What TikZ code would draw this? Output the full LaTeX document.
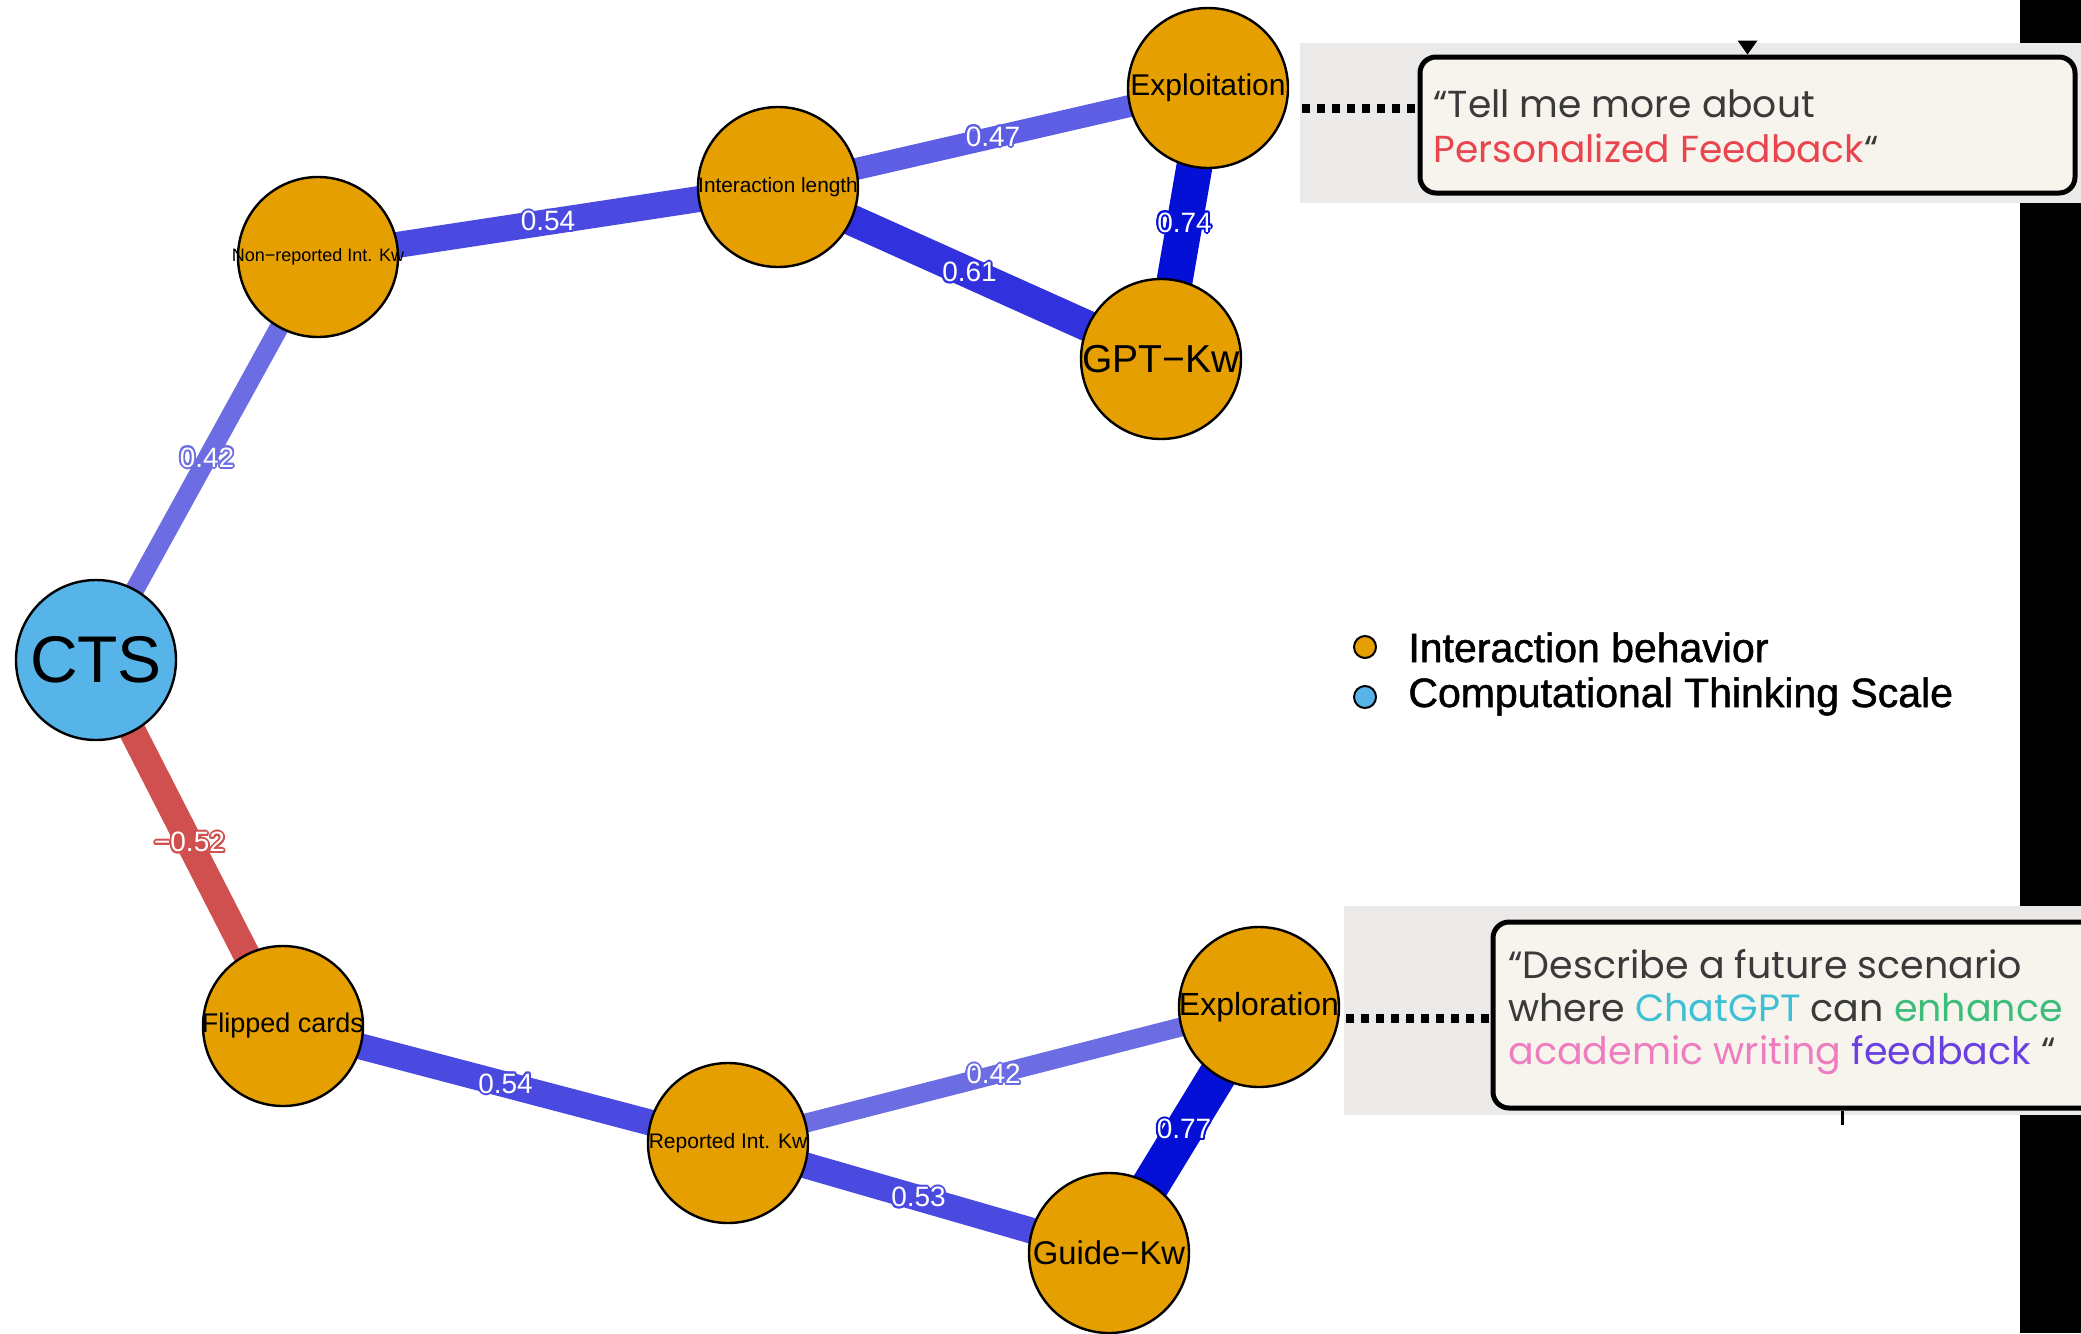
\documentclass[tikz,border=0pt]{standalone}
\usepackage{fontspec}
\setmainfont{Liberation Sans}
\newfontfamily\quotefont{Poppins}
\newfontfamily\legendfont[FakeBold=1.2]{Liberation Sans}
\usepackage{contour}
\contourlength{0.9pt}
\usetikzlibrary{calc}
\pgfdeclarelayer{bg}
\pgfdeclarelayer{edges}
\pgfsetlayers{bg,edges,main}

% node fills (Okabe-Ito palette)
\definecolor{ibfill}{HTML}{E69F00}
\definecolor{ctsfill}{HTML}{56B4E9}
% edge colours by strength
\definecolor{wA}{HTML}{6D6DE3}
\definecolor{wB}{HTML}{5E5EE5}
\definecolor{wC}{HTML}{4A4AE0}
\definecolor{wD}{HTML}{3131DD}
\definecolor{wE}{HTML}{0510D6}
\definecolor{negR}{HTML}{D05050}
% quote cards
\definecolor{panel}{HTML}{ECEAE9}
\definecolor{card}{HTML}{F7F4EE}
\definecolor{ink}{HTML}{3A3A3A}
\definecolor{qred}{HTML}{E8454F}
\definecolor{qcyan}{HTML}{3EC0D4}
\definecolor{qgreen}{HTML}{3CBD7A}
\definecolor{qpink}{HTML}{EE7DC0}
\definecolor{qviolet}{HTML}{6B40E0}

\newcommand{\fs}[1]{\fontsize{#1}{#1}\selectfont}
\newcommand{\nlab}[1]{\makebox[0pt]{#1}}

\tikzset{
  vnode/.style={circle, draw=black, line width=1.2pt, minimum size=80pt,
                inner sep=0pt, fill=ibfill},
  corr/.style n args={2}{draw=#1, line width=#2},
  elabel/.style={font=\fs{14}, inner sep=0pt, text=white},
  panelbox/.style={fill=panel, inner sep=0pt},
  cardbox/.style={draw=black, fill=card, line width=2.5pt, rounded corners=8pt,
                  inner sep=0pt},
  dotconn/.style={line width=4.5pt, dash pattern=on 4pt off 3.5pt},
  quote/.style={anchor=base west, inner sep=0pt, text=ink},
  legdot/.style={circle, draw=black, line width=1pt, minimum size=11pt, inner sep=0pt},
  legtext/.style={anchor=base west, inner sep=0pt, font=\legendfont\fs{20.5}}
}

\begin{document}
\begin{tikzpicture}[x=0.5pt, y=-0.5pt]
\clip (0,0) rectangle (2081,1333);
\begin{pgfonlayer}{bg}
\fill[white] (0,0) rectangle (2081,1333);
\fill[black] (2020,0) rectangle (2081,1333);
\end{pgfonlayer}

% ---- network nodes ----
\node[vnode, fill=ctsfill, font=\fs{33}] (cts) at (96,660) {\nlab{CTS}};
\node[vnode, font=\fs{9}] (nonrep) at (318,257) {\nlab{Non−reported Int. Kw}};
\node[vnode, font=\fs{10.4}] (intlen) at (778,187) {\nlab{Interaction length}};
\node[vnode, font=\fs{15}] (exploit) at (1208,88) {\nlab{Exploitation}};
\node[vnode, font=\fs{19.5}] (gptkw) at (1161,359) {\nlab{GPT−Kw}};
\node[vnode, font=\fs{13.5}] (flipped) at (283,1026) {\nlab{Flipped cards}};
\node[vnode, font=\fs{10.5}] (reported) at (728,1143) {\nlab{Reported Int. Kw}};
\node[vnode, font=\fs{16}] (explor) at (1259,1007) {\nlab{Exploration}};
\node[vnode, font=\fs{16.4}] (guide) at (1109,1253) {\nlab{Guide−Kw}};

% ---- weighted edges, under the nodes ----
\begin{pgfonlayer}{edges}
\draw[corr={wA}{9.5pt}] (cts.center) -- node[elabel]{\contour{wA}{0.42}} (nonrep.center);
\draw[corr={wC}{13pt}] (nonrep.center) -- node[elabel]{\contour{wC}{0.54}} (intlen.center);
\draw[corr={wB}{11pt}] (intlen.center) -- node[elabel]{\contour{wB}{0.47}} (exploit.center);
\draw[corr={wD}{15.5pt}] (intlen.center) -- node[elabel]{\contour{wD}{0.61}} (gptkw.center);
\draw[corr={wE}{18pt}] (exploit.center) -- node[elabel]{\contour{wE}{0.74}} (gptkw.center);
\draw[corr={negR}{13.5pt}] (cts.center) -- node[elabel]{\contour{negR}{−0.52}} (flipped.center);
\draw[corr={wC}{13pt}] (flipped.center) -- node[elabel]{\contour{wC}{0.54}} (reported.center);
\draw[corr={wA}{9.5pt}] (reported.center) -- node[elabel]{\contour{wA}{0.42}} (explor.center);
\draw[corr={wC}{13pt}] (reported.center) -- node[elabel]{\contour{wC}{0.53}} (guide.center);
\draw[corr={wE}{19pt}] (explor.center) -- node[elabel]{\contour{wE}{0.77}} (guide.center);
\end{pgfonlayer}

% ---- legend ----
\node[legdot, fill=ibfill] (legA) at (1365,647) {};
\node[legtext] (legAtxt) at (1408,662) {Interaction behavior};
\node[legdot, fill=ctsfill] (legB) at (1365,697) {};
\node[legtext] (legBtxt) at (1408,707) {Computational Thinking Scale};

% ---- upper quote card ----
\node[panelbox, minimum width=390.5pt, minimum height=80pt] (toppanel) at (1690.5,123) {};
\node[cardbox, minimum width=327.5pt, minimum height=68pt] (topcard) at (1747.5,125) {};
\fill[black] ($(topcard.north)+(-10,-14)$) -- ($(topcard.north)+(10,-14)$) -- ($(topcard.north)+(0,0)$) -- cycle;
\coordinate (tdot) at (1302,108);
\draw[dotconn] (tdot) -- (tdot -| topcard.west);
\node[quote, font=\quotefont\fs{18.8}] (q1a) at (1433,117) {“Tell me more about};
\node[quote, font=\quotefont\fs{18.8}] (q1b) at (1433,162) {\textcolor{qred}{Personalized Feedback}“};

% ---- lower quote card ----
\node[panelbox, minimum width=368.5pt, minimum height=104.5pt] (botpanel) at (1712.5,1010.5) {};
\node[cardbox, minimum width=330pt, minimum height=93pt] (botcard) at (1823,1015) {};
\draw[line width=1.5pt] ($(botcard.south west)+(352,0)$) -- ($(botcard.south west)+(352,14)$);
\coordinate (bdot) at (1346,1018);
\draw[dotconn] (bdot) -- (bdot -| botcard.west);
\node[quote, font=\quotefont\fs{19}] (q2a) at (1508,978) {“Describe a future scenario};
\node[quote, font=\quotefont\fs{19}] (q2b) at (1508,1021) {where \textcolor{qcyan}{ChatGPT} can \textcolor{qgreen}{enhance}};
\node[quote, font=\quotefont\fs{19}] (q2c) at (1508,1064) {\textcolor{qpink}{academic writing} \textcolor{qviolet}{feedback} “};
\end{tikzpicture}
\end{document}
